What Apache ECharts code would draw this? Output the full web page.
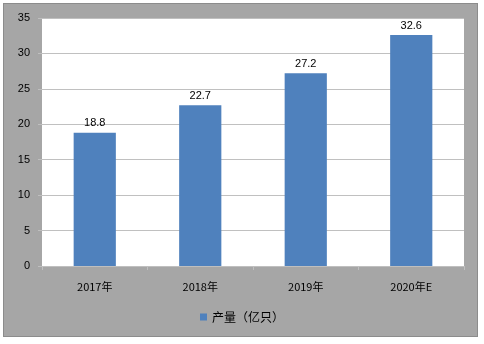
<!DOCTYPE html>
<html><head><meta charset="utf-8">
<script src="https://cdn.jsdelivr.net/npm/echarts@6/dist/echarts.min.js"></script>
<style>
html,body{margin:0;padding:0;background:#fff;}
#panel{position:absolute;left:3px;top:3px;width:475px;height:334px;background:#a6a6a6;border:1px solid #8c8c8c;box-sizing:border-box;}
#c{position:absolute;left:0;top:0;width:484px;height:344px;}
</style></head>
<body>
<div id="panel"></div>
<div id="c"></div>
<script>
var categories = ['2017年','2018年','2019年','2020年E'];
var values = [18.8, 22.7, 27.2, 32.6];
var seriesName = '产量（亿只）';
var yTicks = {min:0, max:35, interval:5};

var chart = echarts.init(document.getElementById('c'));
var font = 'SimSun, "Noto Sans CJK SC", sans-serif';
chart.setOption({
  backgroundColor: 'transparent',
  animation: false,
  grid: {left:42, top:18, right:20, bottom:78, show:true, backgroundColor:'#ffffff', borderWidth:0},
  legend: {
    data:[seriesName], bottom:16, left:'center', itemWidth:7, itemHeight:7, itemGap:4,
    icon:'rect',
    textStyle:{color:'#000', fontSize:12, fontFamily:font}
  },
  xAxis: {
    type:'category', data:categories,
    axisLine:{lineStyle:{color:'#bfbfbf', width:1}},
    axisTick:{show:true, length:4, lineStyle:{color:'#bfbfbf'}},
    axisLabel:{color:'#000', fontSize:11, margin:15, fontFamily:font}
  },
  yAxis: {
    type:'value', min:yTicks.min, max:yTicks.max, interval:yTicks.interval,
    axisLine:{show:false},
    axisTick:{show:true, length:4, lineStyle:{color:'#bfbfbf'}},
    axisLabel:{color:'#000', fontSize:11, margin:12, fontFamily:'Arial, sans-serif'},
    splitLine:{lineStyle:{color:'#c0c0c0', width:1}}
  },
  series: [{
    name: seriesName, type:'bar', data: values, barWidth:'40%',
    itemStyle:{color:'#4f81bd'},
    label:{show:true, position:'top', color:'#000', fontSize:11, fontFamily:'Arial, sans-serif', distance:4}
  }]
});
</script>
</body></html>
